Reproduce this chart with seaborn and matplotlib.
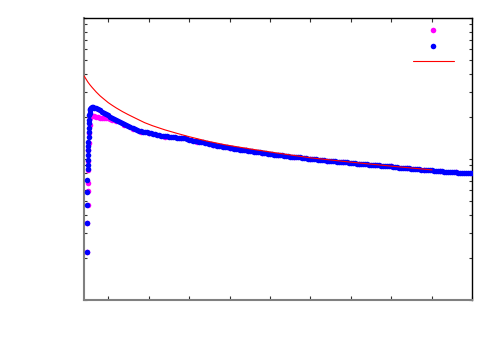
import matplotlib
matplotlib.use("Agg")
import matplotlib.pyplot as plt
from matplotlib.lines import Line2D
from matplotlib.ticker import FixedLocator, LogLocator, NullFormatter
import seaborn as sns
import pandas as pd

# ---- data (x in tick units, y on a log scale 1..100) ----
# rising column and peak of the blue series
blue_rise_x = [0.47, 0.47, 0.47, 0.47, 0.47, 0.50, 0.50, 0.50, 0.50, 0.50, 0.50, 0.51, 0.52,
               0.52, 0.52, 0.52, 0.53, 0.53, 0.54, 0.55, 0.56, 0.57, 0.58, 0.62]
blue_rise_y = [2.18, 3.54, 4.74, 5.86, 7.11, 8.50, 9.0, 9.84, 10.6, 11.57, 13.18, 12.3, 14.3,
               15.5, 16.6, 17.9, 19.0, 20.4, 21.2, 22.1, 22.6, 22.9, 23.1, 23.2]
# decaying part of the blue series
blue_x = [0.60, 0.65, 0.70, 0.75, 0.80, 0.85, 0.90, 0.95, 1.00, 1.05, 1.10, 1.15, 1.20, 1.25,
          1.30, 1.35, 1.40, 1.45, 1.50, 1.55, 1.60, 1.65, 1.70, 1.75, 1.80, 1.85, 1.90, 1.95,
          2.00, 2.05, 2.10, 2.15, 2.20, 2.25, 2.30, 2.35, 2.40, 2.45, 2.50, 2.55, 2.60, 2.65,
          2.70, 2.75, 2.80, 2.85, 2.90, 2.95, 3.00, 3.05, 3.10, 3.15, 3.20, 3.25, 3.30, 3.35,
          3.40, 3.45, 3.50, 3.55, 3.60, 3.65, 3.70, 3.75, 3.80, 3.85, 3.90, 3.95, 4.00, 4.05,
          4.10, 4.15, 4.20, 4.25, 4.30, 4.35, 4.40, 4.45, 4.50, 4.55, 4.60, 4.65, 4.70, 4.75,
          4.80, 4.85, 4.90, 4.95, 5.00, 5.05, 5.10, 5.15, 5.20, 5.25, 5.30, 5.35, 5.40, 5.45,
          5.50, 5.55, 5.60, 5.65, 5.70, 5.75, 5.80, 5.85, 5.90, 5.95, 6.00, 6.05, 6.10, 6.15,
          6.20, 6.25, 6.30, 6.35, 6.40, 6.45, 6.50, 6.55, 6.60, 6.65, 6.70, 6.75, 6.80, 6.85,
          6.90, 6.95, 7.00, 7.05, 7.10, 7.15, 7.20, 7.25, 7.30, 7.35, 7.40, 7.45, 7.50, 7.55,
          7.60, 7.65, 7.70, 7.75, 7.80, 7.85, 7.90, 7.95, 8.00, 8.05, 8.10, 8.15, 8.20, 8.25,
          8.30, 8.35, 8.40, 8.45, 8.50, 8.55, 8.60, 8.65, 8.70, 8.75, 8.80, 8.85, 8.90, 8.95,
          9.00, 9.05, 9.10, 9.15, 9.20, 9.25, 9.30, 9.35, 9.40, 9.45, 9.50, 9.55, 9.60, 9.65,
          9.70, 9.75, 9.80, 9.85, 9.90, 9.95, 10.00]
blue_y = [23.2, 23.1, 22.9, 22.5, 22.1, 21.7, 21.3, 20.8, 20.4, 20.0, 19.6, 19.3, 19.0, 18.7,
          18.4, 18.0, 17.6, 17.35, 17.1, 16.8, 16.5, 16.25, 16.0, 15.85, 15.7, 15.6, 15.5, 15.45,
          15.4, 15.25, 15.1, 15.0, 14.9, 14.75, 14.6, 14.55, 14.5, 14.45, 14.4, 14.35, 14.3, 14.25,
          14.2, 14.2, 14.2, 14.15, 14.1, 13.9, 13.7, 13.6, 13.5, 13.45, 13.4, 13.3, 13.2, 13.1,
          13.0, 12.9, 12.8, 12.7, 12.6, 12.5, 12.4, 12.35, 12.3, 12.2, 12.15, 12.07, 12.0, 11.92,
          11.85, 11.78, 11.7, 11.65, 11.6, 11.55, 11.5, 11.45, 11.4, 11.35, 11.3, 11.25, 11.2, 11.15,
          11.1, 11.02, 10.95, 10.9, 10.85, 10.8, 10.75, 10.7, 10.65, 10.62, 10.6, 10.55, 10.5, 10.45,
          10.4, 10.37, 10.35, 10.32, 10.3, 10.25, 10.2, 10.15, 10.1, 10.07, 10.05, 10.01, 9.97, 9.93,
          9.9, 9.85, 9.8, 9.77, 9.75, 9.72, 9.7, 9.65, 9.6, 9.57, 9.55, 9.52, 9.5, 9.47,
          9.45, 9.4, 9.35, 9.32, 9.3, 9.27, 9.25, 9.22, 9.2, 9.18, 9.16, 9.13, 9.1, 9.07,
          9.05, 9.02, 9.0, 8.97, 8.95, 8.92, 8.9, 8.87, 8.85, 8.82, 8.8, 8.75, 8.7, 8.67,
          8.65, 8.62, 8.6, 8.57, 8.55, 8.52, 8.5, 8.47, 8.45, 8.42, 8.4, 8.37, 8.35, 8.32,
          8.3, 8.27, 8.25, 8.22, 8.2, 8.17, 8.15, 8.12, 8.1, 8.1, 8.08, 8.06, 8.05, 8.02,
          8.0, 7.99, 7.98, 7.96, 7.95, 7.92, 7.9]

magenta_x = [0.48, 0.48, 0.49, 0.49, 0.50, 0.50, 0.51, 0.51, 0.52, 0.53, 0.54, 0.56,
             0.60, 0.65, 0.70, 0.75, 0.80, 0.85, 0.90, 0.95, 1.0, 1.05, 1.1, 1.2, 1.4, 1.6,
             1.8, 2.0, 2.4, 2.8, 3.2, 3.6, 4.0, 4.4, 4.8, 5.2, 5.6, 6.0, 6.4, 6.8, 7.2, 7.6,
             8.0, 8.4, 8.8, 9.2, 9.6, 10.0]
magenta_y = [2.2, 3.5, 4.7, 5.9, 6.8, 8.4, 9.7, 11.5, 13.0, 15.3, 17.5, 19.5,
             20.3, 20.1, 19.9, 19.7, 19.6, 19.5, 19.5, 19.45, 19.4, 19.2, 19.0, 18.7, 17.5, 16.4,
             15.6, 15.3, 14.4, 14.1, 13.3, 12.5, 11.9, 11.5, 11.1, 10.65, 10.35, 10.05, 9.75, 9.5,
             9.25, 9.05, 8.85, 8.6, 8.4, 8.2, 8.05, 7.9]

red_x = [0.40, 0.45, 0.50, 0.55, 0.60, 0.70, 0.80, 0.90, 1.00, 1.10, 1.20, 1.35, 1.50, 1.70,
         1.90, 2.10, 2.40, 2.70, 3.00, 3.44, 3.90, 4.50, 5.20, 6.00, 7.00, 8.00, 9.01]
red_y = [38.9, 36.9, 35.0, 33.5, 32.2, 29.9, 28.0, 26.5, 25.1, 24.0, 23.0, 21.7, 20.6, 19.3,
         18.1, 17.2, 16.1, 15.2, 14.4, 13.4, 12.6, 11.8, 11.0, 10.2, 9.5, 8.9, 8.37]

x_ticks = [1, 2, 3, 4, 5, 6, 7, 8, 9, 10]

blue_df = pd.DataFrame({"x": blue_rise_x + blue_x, "y": blue_rise_y + blue_y})
mag_df = pd.DataFrame({"x": magenta_x, "y": magenta_y})
red_df = pd.DataFrame({"x": red_x, "y": red_y})

sns.set_style("white")
fig = plt.figure(figsize=(5, 3.5), dpi=100)
ax = fig.add_axes([84 / 500, 1 - 300 / 350, 388 / 500, 282 / 350])

sns.scatterplot(data=mag_df, x="x", y="y", ax=ax, color="#ff00ff", s=16, linewidth=0, zorder=2)
sns.scatterplot(data=blue_df, x="x", y="y", ax=ax, color="#0000ff", s=16, linewidth=0, zorder=3)
sns.lineplot(data=red_df, x="x", y="y", ax=ax, color="#ff0000", linewidth=0.8, sort=True,
             estimator=None, zorder=4)

ax.set_yscale("log")
ax.set_xlim(0.4, 10)
ax.set_ylim(1, 100)
ax.set_xlabel("")
ax.set_ylabel("")

ax.xaxis.set_major_locator(FixedLocator(x_ticks))
ax.yaxis.set_major_locator(LogLocator(base=10, numticks=10))
ax.yaxis.set_minor_locator(LogLocator(base=10, subs=range(2, 10), numticks=20))
ax.xaxis.set_major_formatter(NullFormatter())
ax.yaxis.set_major_formatter(NullFormatter())
ax.yaxis.set_minor_formatter(NullFormatter())

ax.tick_params(axis="x", which="major", direction="in", length=3, width=0.8,
               top=True, bottom=True, color="#333333")
ax.tick_params(axis="y", which="both", direction="in", length=2, width=0.8,
               left=True, right=True, color="#333333")

for side in ["left", "bottom"]:
    ax.spines[side].set_color("#808080")
    ax.spines[side].set_linewidth(1.5)
for side in ["top", "right"]:
    ax.spines[side].set_color("black")
    ax.spines[side].set_linewidth(1.0)

handles = [
    Line2D([], [], linestyle="none", marker="o", markersize=4, color="#ff00ff", markeredgewidth=0),
    Line2D([], [], linestyle="none", marker="o", markersize=4, color="#0000ff", markeredgewidth=0),
    Line2D([], [], color="#ff0000", linewidth=0.8),
]
leg = fig.legend(handles=handles, labels=["", "", ""], loc="upper left",
                 bbox_to_anchor=(413 / 500, 1 - 24 / 350), frameon=False,
                 handlelength=2.95, handletextpad=0, borderpad=0, borderaxespad=0,
                 labelspacing=0.1, fontsize=10)

fig.savefig("out.png", dpi=100)
